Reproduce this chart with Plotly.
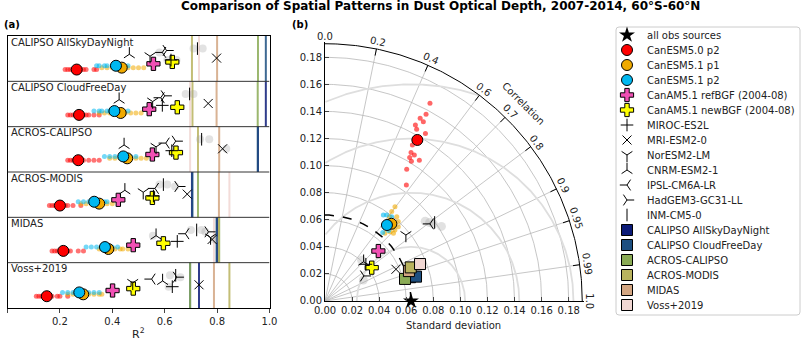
import numpy as np
import plotly.graph_objects as go

W, H = 801, 341
FONT = "DejaVu Sans"

# ---------------- observation sources
obs_names = ["CALIPSO AllSkyDayNight", "CALIPSO CloudFreeDay", "ACROS-CALIPSO",
             "ACROS-MODIS", "MIDAS", "Voss+2019"]
obs_colors = ["#0c1b78", "#1d4f80", "#8aab55", "#b9b35e", "#d3a682", "#f1d7d3"]

# R^2 between observation sources (row = reference obs in panel a)
obs_r2 = [
    [None, 0.986, 0.956, 0.704, 0.800, 0.731],
    [0.986, None, 0.955, 0.706, 0.798, 0.697],
    [0.956, 0.955, None, 0.727, 0.808, 0.697],
    [0.704, 0.706, 0.727, None, 0.807, 0.847],
    [0.800, 0.798, 0.808, 0.807, None, 0.788],
    [0.731, 0.697, 0.697, 0.847, 0.788, None],
]

# ---------------- models
model_names = ["CanESM5.0 p2", "CanESM5.1 p1", "CanESM5.1 p2",
               "CanAM5.1 refBGF (2004-08)", "CanAM5.1 newBGF (2004-08)",
               "MIROC-ES2L", "MRI-ESM2-0", "NorESM2-LM", "CNRM-ESM2-1",
               "IPSL-CM6A-LR", "HadGEM3-GC31-LL", "INM-CM5-0"]
model_colors = ["#ff0000", "#f0aa00", "#00b8f0", "#f050b4", "#ffff00",
                "black", "black", "black", "black", "black", "black", "black"]
model_symbols = ["circle", "circle", "circle", "cross", "cross",
                 "cross-thin", "x-thin", "y-down", "y-up", "y-left", "y-right", "line-ns"]

# R^2 of each model against each obs source (order of obs_names)
model_r2 = [
    [0.264, 0.273, 0.270, 0.200, 0.213, 0.150],
    [0.436, 0.432, 0.457, 0.350, 0.385, 0.289],
    [0.414, 0.408, 0.442, 0.331, 0.372, 0.274],
    [0.557, 0.541, 0.553, 0.423, 0.480, 0.401],
    [0.629, 0.648, 0.643, 0.553, 0.595, 0.480],
    [0.624, 0.591, 0.627, 0.557, 0.648, 0.629],
    [0.798, 0.766, 0.821, 0.686, 0.781, 0.731],
    [0.544, 0.554, 0.567, 0.518, 0.775, 0.478],
    [0.465, 0.426, 0.445, 0.448, 0.567, 0.592],
    [0.591, 0.585, 0.604, 0.563, 0.679, 0.550],
    [0.607, 0.600, 0.642, 0.652, 0.767, 0.646],
    [0.725, 0.695, 0.741, 0.595, 0.722, 0.642],
]

# ensemble members (R^2), one list per obs row
canesm50_p2_members = [
    [0.22, 0.23, 0.24, 0.25, 0.26, 0.28, 0.29, 0.30, 0.33, 0.34],
    [0.23, 0.24, 0.25, 0.26, 0.28, 0.29, 0.30, 0.31, 0.33, 0.35],
    [0.23, 0.24, 0.25, 0.26, 0.27, 0.28, 0.29, 0.31, 0.33, 0.35],
    [0.16, 0.17, 0.18, 0.19, 0.20, 0.21, 0.22, 0.23, 0.25, 0.28],
    [0.17, 0.18, 0.19, 0.20, 0.21, 0.22, 0.23, 0.24, 0.27, 0.29],
    [0.11, 0.12, 0.13, 0.14, 0.15, 0.16, 0.17, 0.19, 0.20, 0.23],
]
canesm51_p1_members = [
    [0.36, 0.38, 0.40, 0.42, 0.44, 0.46, 0.48, 0.50, 0.52],
    [0.35, 0.37, 0.39, 0.41, 0.43, 0.45, 0.47, 0.49, 0.51],
    [0.39, 0.41, 0.43, 0.45, 0.47, 0.49, 0.51, 0.53],
    [0.28, 0.30, 0.32, 0.34, 0.36, 0.38, 0.40],
    [0.35, 0.36, 0.38, 0.39, 0.41, 0.43, 0.44, 0.46],
    [0.23, 0.25, 0.27, 0.29, 0.31, 0.33, 0.35, 0.36],
]
canesm51_p2_members = [
    [0.34, 0.35, 0.37, 0.38, 0.40, 0.41, 0.43, 0.44, 0.46],
    [0.33, 0.35, 0.36, 0.38, 0.39, 0.41, 0.42, 0.44, 0.46],
    [0.37, 0.39, 0.41, 0.43, 0.45, 0.47, 0.49],
    [0.27, 0.29, 0.31, 0.33, 0.35, 0.37, 0.38],
    [0.30, 0.32, 0.34, 0.36, 0.38, 0.40, 0.42],
    [0.21, 0.23, 0.25, 0.27, 0.29, 0.31, 0.33, 0.35],
]
# other CMIP ensemble members (grey): obs row, model index, R^2
grey_row = [0, 0, 0, 0, 0, 1, 1, 2, 2, 2, 2, 3, 3, 3, 4, 4, 4, 4, 4, 5, 5, 5]
grey_model = [11, 11, 5, 5, 9, 11, 11, 11, 11, 5, 6, 11, 11, 10, 8, 11, 11, 10, 6, 11, 10, 5]
grey_r2 = [0.71, 0.745, 0.61, 0.645, 0.58, 0.68, 0.71, 0.735, 0.77, 0.64, 0.835,
           0.58, 0.61, 0.64, 0.555, 0.70, 0.74, 0.755, 0.79, 0.62, 0.66, 0.615]

# ---------------- Taylor diagram values (std dev, correlation)
ref_std = 0.0635
obs_std = [0.0652, 0.0696, 0.0613, 0.0680, 0.0658, 0.0753]
obs_corr = [0.963, 0.966, 0.964, 0.931, 0.942, 0.932]
model_std = [0.1371, 0.0752, 0.0724, 0.0540, 0.0424, 0.0406, 0.0574,
             0.0771, 0.0407, 0.0962, 0.0342, 0.0996]
model_corr = [0.4975, 0.652, 0.632, 0.730, 0.814, 0.744, 0.913,
              0.775, 0.701, 0.806, 0.841, 0.813]
red_std = [0.1653, 0.1568, 0.1521, 0.1510, 0.1461, 0.1437, 0.1443, 0.1320,
           0.1268, 0.1264, 0.1231, 0.1251, 0.1213, 0.1145, 0.1047]
red_corr = [0.469, 0.476, 0.462, 0.481, 0.457, 0.471, 0.514, 0.489,
            0.501, 0.522, 0.508, 0.557, 0.526, 0.527, 0.574]
orange_std = [0.0867, 0.0824, 0.0818, 0.0798, 0.0736, 0.0702, 0.0711, 0.0771, 0.0783, 0.0668]
orange_corr = [0.596, 0.598, 0.648, 0.678, 0.702, 0.684, 0.711, 0.702, 0.607, 0.663]
cyan_std = [0.0767, 0.0661, 0.0794, 0.0781, 0.0701]
cyan_corr = [0.562, 0.645, 0.621, 0.583, 0.670]
grey_t_std = [0.0946, 0.0982, 0.1021, 0.0965, 0.0323, 0.0404]
grey_t_corr = [0.782, 0.815, 0.842, 0.800, 0.877, 0.669]

corr_ticks = [0.0, 0.2, 0.4, 0.6, 0.7, 0.8, 0.9, 0.95, 0.99, 1.0]
corr_labels = ["0.0", "0.2", "0.4", "0.6", "0.7", "0.8", "0.9", "0.95", "0.99", "1.0"]
rmsd_levels = [0.04, 0.08, 0.12, 0.16]
std_grid = [0.02, 0.04, 0.06, 0.08, 0.10, 0.12, 0.14, 0.16, 0.18]
SMAX = 0.19

# pixel geometry of the Taylor panel
T_X0, T_Y0, U = 325.0, 301.0, 1354.0
TR = 0.1912


def tx(s, c):
    s = np.asarray(s, float)
    c = np.asarray(c, float)
    return s * c, s * np.sqrt(1 - c ** 2)


def thin(sym):
    return sym in ("cross-thin", "x-thin", "y-down", "y-up", "y-left", "y-right", "line-ns")


def marker(k, size=None):
    sym = model_symbols[k]
    if thin(sym):
        return dict(symbol=sym, size=size or 9, color="black",
                    line=dict(color="black", width=1))
    return dict(symbol=sym, size=size or 11, color=model_colors[k], line=dict(color="black", width=1))


fig = go.Figure()

# ================= panel (a)
frac = [0.74 - 0.042 * k for k in range(len(model_names))]
nrow = len(obs_names)

member_sets = [(0, canesm50_p2_members), (1, canesm51_p1_members), (2, canesm51_p2_members)]
for k, mem in member_sets:
    xs, ys = [], []
    for i, row in enumerate(mem):
        xs += row
        ys += [i + frac[k]] * len(row)
    fig.add_trace(go.Scatter(x=xs, y=ys, mode="markers", xaxis="x", yaxis="y",
                             marker=dict(size=5, color=model_colors[k], opacity=0.55),
                             hoverinfo="skip", showlegend=False))

fig.add_trace(go.Scatter(x=grey_r2, y=[r + frac[m] for r, m in zip(grey_row, grey_model)],
                         mode="markers", xaxis="x", yaxis="y",
                         marker=dict(size=8, color="#a0a0a0", opacity=0.3),
                         hoverinfo="skip", showlegend=False))

for k in range(len(model_names)):
    fig.add_trace(go.Scatter(x=model_r2[k], y=[i + frac[k] for i in range(nrow)],
                             mode="markers", xaxis="x", yaxis="y", marker=marker(k),
                             name=model_names[k], showlegend=False))

shapes = []
for i in range(nrow):
    for j in range(nrow):
        if obs_r2[i][j] is None:
            continue
        shapes.append(dict(type="line", xref="x", yref="y", x0=obs_r2[i][j], x1=obs_r2[i][j],
                           y0=i, y1=i + 1, line=dict(color=obs_colors[j], width=2),
                           opacity=0.85, layer="below"))
for i in range(1, nrow):
    shapes.append(dict(type="line", xref="x", yref="y", x0=0, x1=1, y0=i, y1=i,
                       line=dict(color="#333333", width=1)))

annotations = []
row_h = (308 - 36) / nrow
for i, nm in enumerate(obs_names):
    annotations.append(dict(x=9, y=36 + row_h * i + 6, xref="x3", yref="y3", text=nm, showarrow=False,
                            xanchor="left", yanchor="middle", font=dict(size=10, color="#222")))

# ================= panel (b) Taylor diagram
grid_col = "#b8b8b8"
th = np.linspace(0, np.pi / 2, 200)
for s in std_grid:
    fig.add_trace(go.Scatter(x=s * np.cos(th), y=s * np.sin(th), mode="lines", xaxis="x2", yaxis="y2",
                             line=dict(color=grid_col, width=0.8), hoverinfo="skip", showlegend=False))
for c in corr_ticks[1:-1]:
    fig.add_trace(go.Scatter(x=[0, SMAX * c], y=[0, SMAX * np.sqrt(1 - c * c)], mode="lines",
                             xaxis="x2", yaxis="y2", line=dict(color=grid_col, width=0.8),
                             hoverinfo="skip", showlegend=False))
tt = np.linspace(0, np.pi, 400)
for rr in rmsd_levels:
    xs = ref_std + rr * np.cos(tt)
    ys = rr * np.sin(tt)
    ok = (xs >= 0) & (np.hypot(xs, ys) <= SMAX)
    xs = np.where(ok, xs, np.nan)
    ys = np.where(ok, ys, np.nan)
    fig.add_trace(go.Scatter(x=xs, y=ys, mode="lines", xaxis="x2", yaxis="y2",
                             line=dict(color="#dedede", width=1.8), hoverinfo="skip", showlegend=False))
fig.add_trace(go.Scatter(x=ref_std * np.cos(th), y=ref_std * np.sin(th), mode="lines",
                         xaxis="x2", yaxis="y2", line=dict(color="black", width=1.5, dash="dash"),
                         hoverinfo="skip", showlegend=False))
fig.add_trace(go.Scatter(x=SMAX * np.cos(th), y=SMAX * np.sin(th), mode="lines",
                         xaxis="x2", yaxis="y2", line=dict(color="black", width=1),
                         hoverinfo="skip", showlegend=False))
for c in corr_ticks[1:-1]:
    s_ = np.sqrt(1 - c * c)
    fig.add_trace(go.Scatter(x=[0.185 * c, SMAX * c], y=[0.185 * s_, SMAX * s_], mode="lines",
                             xaxis="x2", yaxis="y2", line=dict(color="black", width=1),
                             hoverinfo="skip", showlegend=False))

for s_, c_, col in [(red_std, red_corr, model_colors[0]), (orange_std, orange_corr, model_colors[1]),
                    (cyan_std, cyan_corr, model_colors[2])]:
    x_, y_ = tx(s_, c_)
    fig.add_trace(go.Scatter(x=x_, y=y_, mode="markers", xaxis="x2", yaxis="y2",
                             marker=dict(size=5, color=col, opacity=0.6),
                             hoverinfo="skip", showlegend=False))
x_, y_ = tx(grey_t_std, grey_t_corr)
fig.add_trace(go.Scatter(x=x_, y=y_, mode="markers", xaxis="x2", yaxis="y2",
                         marker=dict(size=9, color="#a8a8a8", opacity=0.35),
                         hoverinfo="skip", showlegend=False))

for k in range(len(model_names)):
    x_, y_ = tx([model_std[k]], [model_corr[k]])
    fig.add_trace(go.Scatter(x=x_, y=y_, mode="markers", xaxis="x2", yaxis="y2",
                             marker=marker(k), showlegend=False))

for j in [0, 1, 2, 4, 3, 5]:
    x_, y_ = tx([obs_std[j]], [obs_corr[j]])
    fig.add_trace(go.Scatter(x=x_, y=y_, mode="markers", xaxis="x2", yaxis="y2",
                             marker=dict(symbol="square", size=11, color=obs_colors[j],
                                         line=dict(color="black", width=1)),
                             showlegend=False))
fig.add_trace(go.Scatter(x=[ref_std], y=[0], mode="markers", xaxis="x2", yaxis="y2", cliponaxis=False,
                         marker=dict(symbol="star", size=12, color="black"), showlegend=False))

# correlation labels around the arc (placed in pixel space so they are not hidden)
for c, lab in zip(corr_ticks, corr_labels):
    t = np.arccos(c)
    r = 0.1955
    annotations.append(dict(x=T_X0 + U * r * np.cos(t), y=T_Y0 - U * r * np.sin(t), xref="x3", yref="y3",
                            text=lab, showarrow=False, textangle=90 - np.degrees(t),
                            font=dict(size=10, color="#222")))
tc = np.radians(44.9)
annotations.append(dict(x=T_X0 + U * 0.2068 * np.cos(tc), y=T_Y0 - U * 0.2068 * np.sin(tc),
                        xref="x3", yref="y3", text="Correlation", showarrow=False, textangle=45,
                        font=dict(size=10, color="#222")))
annotations.append(dict(x=453, y=325, xref="x3", yref="y3", text="Standard deviation",
                        showarrow=False, font=dict(size=10, color="#222")))
annotations.append(dict(x=138.5, y=333, xref="x3", yref="y3", text="R<sup>2</sup>",
                        showarrow=False, font=dict(size=11, color="#222")))

# ================= manual legend (pixel coordinates)
leg_x0, leg_x1, leg_y0, leg_y1 = 616, 800, 27, 315
shapes.append(dict(type="path", xref="x3", yref="y3", fillcolor="white",
                   line=dict(color="#cccccc", width=1),
                   path=f"M {leg_x0+3},{leg_y0} L {leg_x1-3},{leg_y0} Q {leg_x1},{leg_y0} {leg_x1},{leg_y0+3} "
                        f"L {leg_x1},{leg_y1-3} Q {leg_x1},{leg_y1} {leg_x1-3},{leg_y1} "
                        f"L {leg_x0+3},{leg_y1} Q {leg_x0},{leg_y1} {leg_x0},{leg_y1-3} "
                        f"L {leg_x0},{leg_y0+3} Q {leg_x0},{leg_y0} {leg_x0+3},{leg_y0} Z", layer="below"))
leg_items = [("all obs sources", dict(symbol="star", size=12, color="black"))]
leg_items += [(model_names[k], marker(k)) for k in range(len(model_names))]
leg_items += [(obs_names[j], dict(symbol="square", size=11, color=obs_colors[j],
                                  line=dict(color="black", width=1))) for j in range(nrow)]
for i, (lab, mk) in enumerate(leg_items):
    yy = 35 + 15 * i
    fig.add_trace(go.Scatter(x=[627], y=[yy], mode="markers", xaxis="x3", yaxis="y3",
                             marker=mk, showlegend=False, hoverinfo="skip"))
    annotations.append(dict(x=645, y=yy, xref="x3", yref="y3", text=lab, showarrow=False,
                            xanchor="left", yanchor="middle", font=dict(size=10, color="#222")))

# titles and panel labels
annotations.append(dict(x=440, y=6, xref="x3", yref="y3", showarrow=False,
                        text="<b>Comparison of Spatial Patterns in Dust Optical Depth, 2007-2014, 60°S-60°N</b>",
                        font=dict(size=12, color="black")))
annotations.append(dict(x=12, y=24, xref="x3", yref="y3", showarrow=False,
                        text="<b>(a)</b>", font=dict(size=10, color="black")))
annotations.append(dict(x=300, y=24, xref="x3", yref="y3", showarrow=False,
                        text="<b>(b)</b>", font=dict(size=10, color="black")))

fig.update_layout(
    width=W, height=H, margin=dict(l=0, r=0, t=0, b=0, autoexpand=False),
    paper_bgcolor="white", plot_bgcolor="rgba(0,0,0,0)",
    font=dict(family=FONT, size=10, color="#222"),
    showlegend=False, shapes=shapes, annotations=annotations,
    xaxis=dict(domain=[7.5 / W, 269.5 / W], range=[0, 1], anchor="y", automargin=False,
               tickvals=[0, 0.2, 0.4, 0.6, 0.8, 1.0], ticktext=["0.0", "0.2", "0.4", "0.6", "0.8", "1.0"],
               ticks="outside", ticklen=3.5, showline=True, linecolor="black", mirror=True,
               showgrid=False, zeroline=False),
    yaxis=dict(domain=[1 - 308 / H, 1 - 36 / H], range=[6, 0], anchor="x", automargin=False,
               showticklabels=False, ticks="", showline=True, linecolor="black", mirror=True,
               showgrid=False, zeroline=False),
    xaxis2=dict(domain=[T_X0 / W, (T_X0 + TR * U) / W], range=[0, TR], anchor="y2", automargin=False,
                tickvals=[0.0] + std_grid, tickformat=".2f",
                ticks="inside", ticklen=4, showline=True, linecolor="black",
                showgrid=False, zeroline=False),
    yaxis2=dict(domain=[1 - T_Y0 / H, 1 - (T_Y0 - TR * U) / H], range=[0, TR], anchor="x2",
                automargin=False, tickvals=[0.0] + std_grid, tickformat=".2f",
                ticks="inside", ticklen=4, showline=True, linecolor="black",
                showgrid=False, zeroline=False),
    xaxis3=dict(domain=[0, 1], range=[0, W], anchor="y3", visible=False, fixedrange=True,
                automargin=False),
    yaxis3=dict(domain=[0, 1], range=[H, 0], anchor="x3", visible=False, fixedrange=True,
                automargin=False),
)

# page body has a default 8px margin; remove it so the figure sits at the window origin
fig.write_html("out.html", config={"displayModeBar": False},
               post_script="document.body.style.margin='0px';")
